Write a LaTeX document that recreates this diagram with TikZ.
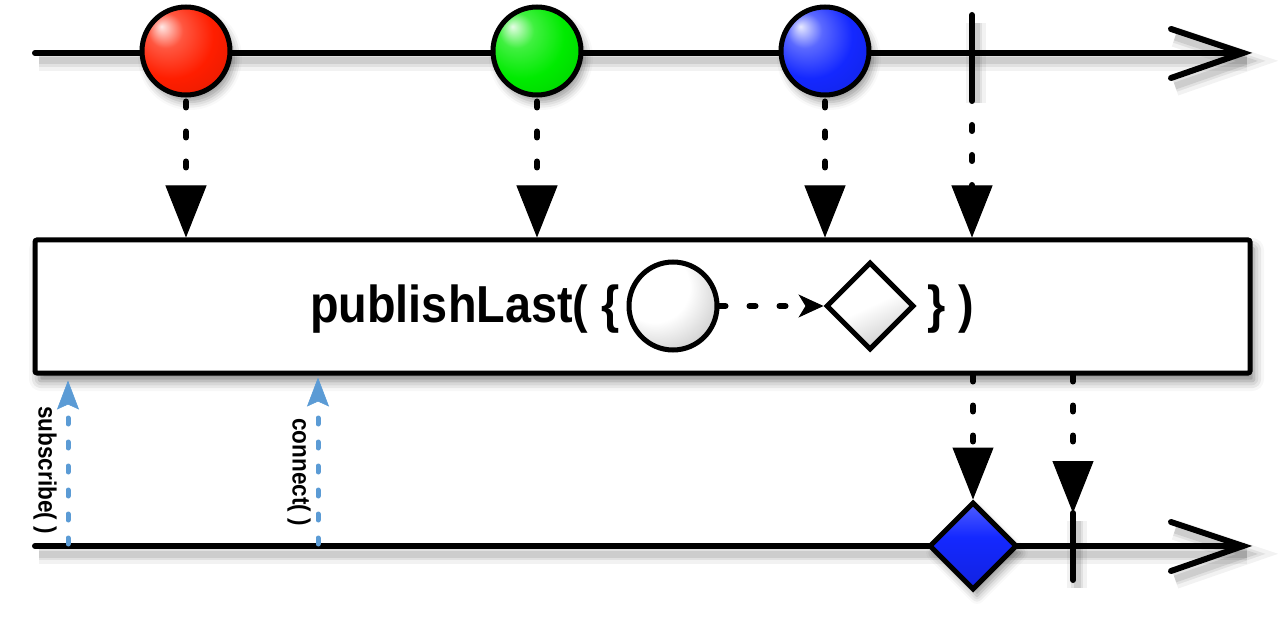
\documentclass[tikz,border=0pt]{standalone}
\usepackage{fontspec}
\setmainfont{Liberation Sans}
\newfontfamily\condb{Liberation Sans}[FakeStretch=0.9]
\usetikzlibrary{arrows.meta,shapes.geometric,shadows.blur,calc}
\definecolor{linkblue}{RGB}{91,155,213}
\definecolor{redb}{RGB}{255,30,0}
\definecolor{greenb}{RGB}{0,235,0}
\definecolor{blueb}{RGB}{20,40,255}
\pgfdeclareradialshading{whiteball}{\pgfpoint{-16bp}{16bp}}{color(0bp)=(white); color(20bp)=(white); color(36bp)=(black!20); color(52bp)=(black!45); color(60bp)=(black!55)}
\pgfdeclareradialshading{redball}{\pgfpoint{-14bp}{14bp}}{color(0bp)=(redb!10!white); color(10bp)=(redb!75!white); color(24bp)=(redb); color(45bp)=(redb!85!black); color(60bp)=(redb!60!black)}
\pgfdeclareradialshading{greenball}{\pgfpoint{-14bp}{14bp}}{color(0bp)=(greenb!10!white); color(10bp)=(greenb!75!white); color(24bp)=(greenb); color(45bp)=(greenb!85!black); color(60bp)=(greenb!60!black)}
\pgfdeclareradialshading{blueball}{\pgfpoint{-14bp}{14bp}}{color(0bp)=(blueb!10!white); color(10bp)=(blueb!70!white); color(24bp)=(blueb); color(45bp)=(blueb!85!black); color(60bp)=(blueb!60!black)}
\pgfdeclareverticalshading{bluedia}{100bp}{color(0bp)=(blueb!70!black); color(30bp)=(blueb!90!black); color(55bp)=(blueb); color(75bp)=(blueb!75!white); color(100bp)=(blueb!15!white)}
\pgfdeclareverticalshading{whitedia}{100bp}{color(0bp)=(black!50); color(25bp)=(black!20); color(50bp)=(white); color(100bp)=(white)}
\tikzset{
  lshadow/.style={
    preaction={draw=black,opacity=0.05,line width=10pt,transform canvas={shift={(2pt,-4pt)}}},
    preaction={draw=black,opacity=0.07,line width=6pt,transform canvas={shift={(2pt,-4pt)}}},
    preaction={draw=black,opacity=0.09,line width=3.5pt,transform canvas={shift={(2pt,-4pt)}}}},
  mainline/.style={line width=3pt,line cap=round,line join=miter},
  ticker/.style={line width=3pt,line cap=round},
  soft/.style={blur shadow={shadow xshift=2pt,shadow yshift=-3.5pt,shadow blur radius=4pt,shadow opacity=40}},
  ballnode/.style={circle,draw=black,line width=2.5pt,minimum size=44pt,inner sep=0pt,soft},
  dotconn/.style={line width=3pt,line cap=round,dash pattern=on 3pt off 12pt,
    -{Triangle[length=26pt,width=20.5pt,line width=0.5pt]}},
  innerconn/.style={line width=3pt,line cap=round,dash pattern=on 3pt off 12pt,
    -{Stealth[length=12.5pt,width=11.5pt,inset=3.5pt,line width=0.5pt]}},
  blueconn/.style={draw=linkblue,line width=2.5pt,line cap=round,dash pattern=on 3pt off 9pt,
    -{Stealth[length=14.5pt,width=11pt,inset=2.5pt,line width=0.3pt]}},
  vlabel/.style={rotate=-90,inner sep=0pt,font=\condb\bfseries\fontsize{12.5pt}{14pt}\selectfont},
  dnode/.style={diamond,aspect=1,draw=black,line width=2.5pt,inner sep=0pt,minimum width=44pt,minimum height=44pt,soft},
}
\begin{document}
\begin{tikzpicture}[x=0.5pt,y=-0.5pt]
\useasboundingbox (0,0) rectangle (1280,620);
% coordinates
\coordinate (tl) at (35,53);
\coordinate (tr) at (1243,53);
\coordinate (bl) at (35,546);
\coordinate (br) at (1243,546);
\coordinate (tickTa) at (972,15);
\coordinate (tickTb) at (972,95);
\coordinate (tickBa) at (1073,513);
\coordinate (tickBb) at (1073,580);
\coordinate (subB) at (68,544);
\coordinate (conB) at (318,544);
% top timeline
\draw[mainline,lshadow] (tl) -- (tr);
\draw[mainline,lshadow] ($(tr)+(-72,-24)$) -- (tr) -- ($(tr)+(-72,25)$);
\draw[ticker,lshadow] (tickTa) -- (tickTb);
% bottom timeline
\draw[mainline,lshadow] (bl) -- (br);
\draw[mainline,lshadow] ($(br)+(-72,-24)$) -- (br) -- ($(br)+(-72,25)$);
\draw[ticker,lshadow] (tickBa) -- (tickBb);
% box
\node[draw=black,fill=white,line width=2.5pt,rounded corners=1pt,minimum width=607.5pt,minimum height=66.5pt,inner sep=0pt,
  blur shadow={shadow xshift=2pt,shadow yshift=-4pt,shadow blur radius=5pt,shadow opacity=50}] (box) at (642.5,306.5) {};
% balls
\node[ballnode,shading=redball] (red) at (186,51) {};
\node[ballnode,shading=greenball] (green) at (537,51) {};
\node[ballnode,shading=blueball] (blue) at (825,51) {};
% connectors top
\draw[dotconn] ([yshift=-2pt]red.south) -- (red.south |- box.north);
\draw[dotconn] ([yshift=-2pt]green.south) -- (green.south |- box.north);
\draw[dotconn] ([yshift=-2pt]blue.south) -- (blue.south |- box.north);
\draw[dotconn] (tickTb) -- (tickTb |- box.north);
% box content
\node[circle,draw=black,line width=2.5pt,minimum size=44pt,inner sep=0pt,shading=whiteball] (circ) at (673,306) {};
\node[diamond,aspect=1,draw=black,line width=2.5pt,inner sep=0pt,minimum width=44pt,minimum height=44pt,
  shading=whitedia,shading angle=25] (dia) at (870,306) {};
\draw[innerconn] (circ.east) -- (dia.west);
\node[anchor=base east,inner sep=0pt,font=\condb\bfseries\fontsize{26pt}{30pt}\selectfont] (t1) at (620,322) {publishLast( \{};
\node[anchor=base west,inner sep=0pt,font=\condb\bfseries\fontsize{26pt}{30pt}\selectfont] (t2) at (927,322) {\} )};
% bottom result
\node[dnode,shading=bluedia] (bdia) at (973,546) {};
\draw[dotconn] (bdia.north |- box.south) -- (bdia.north);
\draw[dotconn] (tickBa |- box.south) -- (tickBa);
% subscribe / connect
\draw[blueconn] (subB) -- ([yshift=-2.5pt]subB |- box.south);
\draw[blueconn] (conB) -- ([yshift=-1pt]conB |- box.south);
\node[vlabel] (subl) at (45,470) {subscribe( )};
\node[vlabel] (conl) at (299,472) {connect( )};
\end{tikzpicture}
\end{document}
